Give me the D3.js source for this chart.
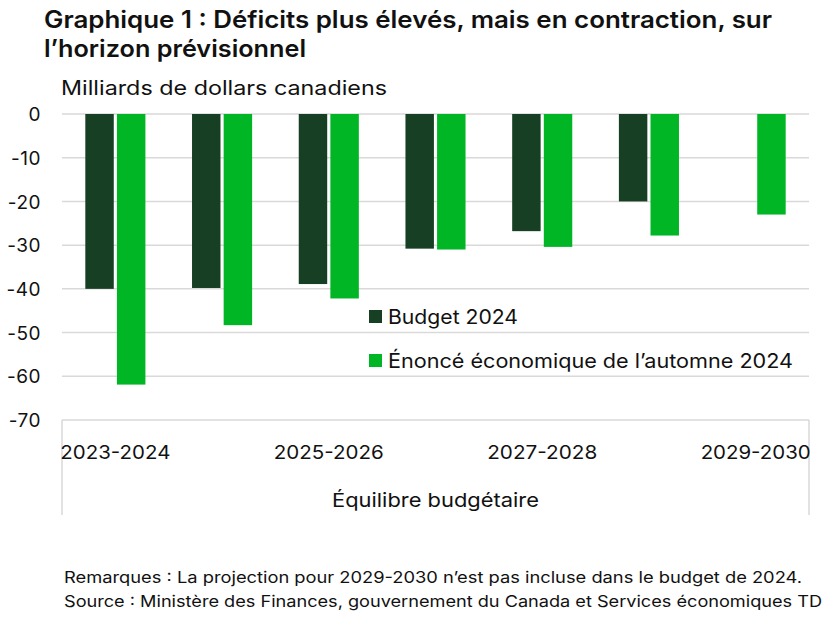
<!DOCTYPE html>
<html><head><meta charset="utf-8">
<script src="https://cdn.jsdelivr.net/npm/d3@7"></script>
<style>
html,body{margin:0;padding:0;background:#fff;}
svg{display:block;font-family:Inter, "Noto Sans", sans-serif;}
</style></head>
<body>
<svg id="chart" width="827" height="617"></svg>
<script>
const categories = ["2023-2024","2024-2025","2025-2026","2026-2027","2027-2028","2028-2029","2029-2030"];
const shownLabels = ["2023-2024","2025-2026","2027-2028","2029-2030"];
const seriesNames = ["Budget 2024","Énoncé économique de l’automne 2024"];
const budget2024 = [-40.0, -39.8, -38.9, -30.8, -26.8, -20.0, null];
const fes2024 = [-61.9, -48.3, -42.2, -31.0, -30.4, -27.8, -23.0];
const yTicks = [0,-10,-20,-30,-40,-50,-60,-70];
const colors = ["#173f24","#00b624"];

const svg = d3.select("#chart");
const L = 62, R = 809, T = 114, B = 420;

const x0 = d3.scaleBand().domain(categories).range([L,R]).paddingInner(0.437).paddingOuter(0.2185);
const x1 = d3.scaleBand().domain(seriesNames).range([0,x0.bandwidth()]).paddingInner(0.1);
const y = d3.scaleLinear().domain([-70,0]).range([B,T]);

// title
const title = svg.append("text").attr("x",44).attr("font-weight",600).attr("font-size",24).attr("fill","#111");
title.append("tspan").attr("x",44).attr("y",28).attr("textLength",728).attr("lengthAdjust","spacingAndGlyphs").text("Graphique 1 : Déficits plus élevés, mais en contraction, sur");
title.append("tspan").attr("x",44).attr("y",57).attr("textLength",262).attr("lengthAdjust","spacingAndGlyphs").text("l’horizon prévisionnel");

svg.append("text").attr("x",61).attr("y",95).attr("font-size",20).attr("fill","#111")
  .attr("textLength",326).attr("lengthAdjust","spacingAndGlyphs").text("Milliards de dollars canadiens");

// gridlines
svg.append("g").selectAll("line").data(yTicks).join("line")
  .attr("x1",L).attr("x2",R).attr("y1",d=>y(d)).attr("y2",d=>y(d))
  .attr("stroke","#d9d9d9").attr("stroke-width",1.5);

// y axis labels
const yAxis = d3.axisLeft(y).tickValues(yTicks).tickSize(0).tickPadding(0).tickFormat(d=>d3.format("d")(d).replace("−","-"));
const ga = svg.append("g").attr("transform",`translate(41,0)`).call(yAxis);
ga.select(".domain").remove();
ga.selectAll("text").attr("font-size",19).attr("fill","#111").attr("font-family","Inter, sans-serif").attr("dy","0.35em")
  .attr("letter-spacing",0.5);

// category box
svg.append("line").attr("x1",L).attr("x2",L).attr("y1",B).attr("y2",515).attr("stroke","#d9d9d9").attr("stroke-width",1.5);
svg.append("line").attr("x1",R).attr("x2",R).attr("y1",B).attr("y2",515).attr("stroke","#d9d9d9").attr("stroke-width",1.5);

// bars
const data = categories.map((c,i)=>({cat:c, vals:[budget2024[i], fes2024[i]]}));
const groups = svg.append("g").selectAll("g").data(data).join("g")
  .attr("transform",d=>`translate(${x0(d.cat)},0)`);
groups.selectAll("rect").data(d=>d.vals.map((v,j)=>({v,j})).filter(e=>e.v!==null)).join("rect")
  .attr("x",e=>x1(seriesNames[e.j])).attr("width",x1.bandwidth())
  .attr("y",y(0)).attr("height",e=>y(e.v)-y(0)).attr("fill",e=>colors[e.j]);

// x labels
const xAxis = d3.axisBottom(x0).tickValues(shownLabels).tickSize(0).tickPadding(0);
const gx = svg.append("g").attr("transform",`translate(0,452)`).call(xAxis);
gx.select(".domain").remove();
gx.selectAll("text").attr("font-size",19).attr("fill","#111").attr("font-family","Inter, sans-serif").attr("dy","0.35em")
  .attr("textLength",110).attr("lengthAdjust","spacingAndGlyphs");

svg.append("text").attr("x",(L+R)/2).attr("y",507).attr("text-anchor","middle").attr("font-size",19).attr("fill","#111")
  .attr("textLength",207).attr("lengthAdjust","spacingAndGlyphs").text("Équilibre budgétaire");

// legend
const legendLens = [130, 405];
const leg = svg.append("g").selectAll("g").data(seriesNames).join("g")
  .attr("transform",(d,i)=>`translate(369,${310+i*44})`);
leg.append("rect").attr("width",13).attr("height",13).attr("fill",(d,i)=>colors[i]);
leg.append("text").attr("x",19).attr("y",14).attr("font-size",20).attr("fill","#111")
  .attr("textLength",(d,i)=>legendLens[i]).attr("lengthAdjust","spacingAndGlyphs").text(d=>d);

// notes
svg.append("text").attr("x",64).attr("y",583).attr("font-size",16).attr("fill","#111")
  .attr("textLength",738).attr("lengthAdjust","spacingAndGlyphs")
  .text("Remarques : La projection pour 2029-2030 n’est pas incluse dans le budget de 2024.");
svg.append("text").attr("x",64).attr("y",607).attr("font-size",16).attr("fill","#111")
  .attr("textLength",758).attr("lengthAdjust","spacingAndGlyphs")
  .text("Source : Ministère des Finances, gouvernement du Canada et Services économiques TD");
</script>
</body></html>
